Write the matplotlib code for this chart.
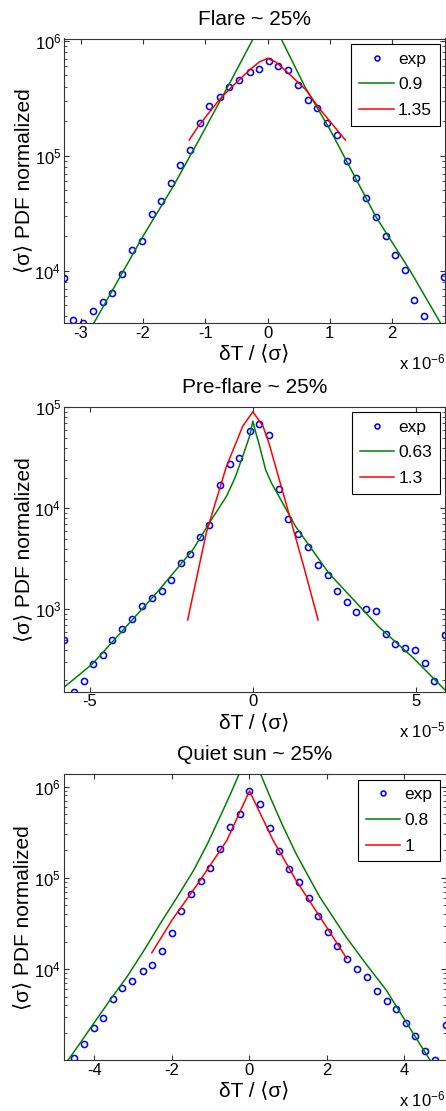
import matplotlib
matplotlib.use('Agg')
import matplotlib.pyplot as plt
from matplotlib.ticker import LogLocator, NullFormatter

plt.rcParams['font.family'] = ['Liberation Sans', 'DejaVu Sans']
plt.rcParams['axes.unicode_minus'] = False

## Flare ~ 25% (x in units of 1e-6)
x1 = [-3.27, -3.12, -2.96, -2.80, -2.65, -2.50, -2.34, -2.18, -2.02, -1.86,
      -1.71, -1.55, -1.40, -1.25, -1.09, -0.94, -0.77, -0.62, -0.46, -0.29,
      -0.14, 0.02, 0.17, 0.33, 0.49, 0.65, 0.80, 0.96, 1.11, 1.27,
      1.42, 1.58, 1.74, 1.90, 2.05, 2.20, 2.36, 2.52, 2.84]
y1 = [8570, 3725, 3480, 4455, 5345, 6440, 9360, 15030, 18230, 31330,
      40640, 57830, 82400, 112000, 191000, 270000, 323000, 393000, 458000, 537000,
      574000, 665000, 606000, 552000, 411000, 303000, 261000, 191000, 152000, 89300,
      64400, 43100, 29600, 19900, 13700, 10200, 5520, 4040, 8750]
gx1 = [-2.9, -2.0, -1.52, -1.10, -0.6, 0, 0.6, 1.0, 1.74, 2.3, 2.9]
gy1 = [2750, 20000, 53700, 138000, 437000, 1800000, 398000, 170000, 29500, 9800, 2700]
rx1 = [-1.26, -1.10, -0.78, -0.60, -0.29, -0.13, 0, 0.13, 0.29, 0.62, 0.83, 1.0, 1.25]
ry1 = [137000, 184500, 304800, 385500, 556000, 656000, 703000, 653000, 550000,
       372400, 258200, 199500, 137000]

## Pre-flare ~ 25% (x in units of 1e-5)
x2 = [-5.79, -5.49, -5.18, -4.89, -4.59, -4.31, -4.01, -3.70, -3.40, -3.09,
      -2.80, -2.50, -2.21, -1.92, -1.62, -1.33, -1.01, -0.71, -0.41, -0.10,
      0.19, 0.49, 0.79, 1.08, 1.39, 1.69, 1.99, 2.29, 2.58, 2.88,
      3.17, 3.47, 3.78, 4.08, 4.37, 4.66, 4.96, 5.27, 5.56, 5.89]
y2 = [497, 153, 195, 290, 356, 497, 638, 796, 1071, 1306,
      1531, 1938, 2898, 3533, 5200, 6840, 17000, 27700, 31700, 58300,
      68400, 53200, 15500, 7780, 5570, 4110, 2770, 2170, 1531, 1173,
      942, 1008, 962, 570, 450, 417, 399, 297, 195, 557]
gx2 = [-5.9, -4.9, -3.98, -2.96, -1.84, -1.27, -0.81, -0.55, -0.31, -0.10, 0,
       0.08, 0.18, 0.39, 0.57, 0.80, 1.31, 2.33, 3.86, 4.88, 5.9]
gy2 = [158, 292, 624, 1445, 3890, 7730, 13150, 20000, 32800, 51900, 73100,
       57500, 44600, 24200, 17800, 13150, 6620, 2280, 671, 339, 158]
rx2 = [-2.0, -1.43, -0.81, -0.31, 0, 0.31, 0.49, 1.10, 1.56, 2.0]
ry2 = [785, 5700, 26100, 65200, 90600, 65200, 44600, 8990, 2655, 785]

## Quiet sun ~ 25% (x in units of 1e-6)
x3 = [-4.52, -4.27, -4.02, -3.77, -3.52, -3.28, -3.03, -2.76, -2.51, -2.25,
      -2.00, -1.76, -1.51, -1.26, -1.02, -0.75, -0.50, -0.24, 0.0, 0.26,
      0.52, 0.76, 1.02, 1.27, 1.53, 1.78, 2.03, 2.27, 2.53, 2.78,
      3.03, 3.29, 3.54, 3.78, 4.03, 4.28, 4.54, 4.79, 5.06]
y3 = [1070, 1496, 2263, 2892, 4710, 6270, 7360, 9640, 11130, 15970,
      24930, 43100, 67300, 91900, 129800, 207800, 362000, 503000, 900000, 648000,
      353000, 198000, 125600, 89600, 60300, 38300, 25400, 17700, 13040, 9960,
      8200, 5760, 4480, 3660, 2590, 1866, 1277, 1000, 2420]
gx3 = [-4.8, -4.4, -4.02, -3.6, -3.16, -2.7, -2.30, -1.85, -1.44, -1.1, -0.76, -0.5,
       -0.28, 0, 0.30, 0.55, 0.85, 1.20, 1.8, 2.49, 3.0, 3.53, 4.1, 4.63, 5.1]
gy3 = [859, 1480, 2541, 4570, 8240, 16600, 31600, 63100, 121300, 229000, 465600,
       813000, 1334000, 2818000, 1334000, 741000, 380000, 184900, 63100, 22600,
       11500, 5890, 2400, 1052, 550]
rx3 = [-2.52, -2.0, -1.27, -0.58, 0, 0.6, 1.2, 2.0, 2.51]
ry3 = [15100, 34400, 94400, 258800, 897000, 263000, 94400, 28400, 13090]

titles = ['Flare ~ 25%', 'Pre-flare ~ 25%', 'Quiet sun ~ 25%']
green_labels = ['0.9', '0.63', '0.8']
red_labels = ['1.35', '1.3', '1']
multipliers = ['-6', '-5', '-6']

W, H = 446, 1111
fig = plt.figure(figsize=(W / 100, H / 100), dpi=100)

# axes boxes in pixels: left, top, right, bottom
boxes = [(64, 38.5, 445, 323), (64, 406.7, 445, 691.7), (63.5, 774.3, 445.5, 1060)]
xlims = [(-3.27, 2.85), (-5.79, 5.89), (-4.80, 5.06)]
ylims = [(3510, 1.047e6), (153, 1.016e5), (1008, 1.365e6)]
xticks = [[-3, -2, -1, 0, 1, 2], [-5, 0, 5], [-4, -2, 0, 2, 4]]

data = [(x1, y1, gx1, gy1, rx1, ry1), (x2, y2, gx2, gy2, rx2, ry2),
        (x3, y3, gx3, gy3, rx3, ry3)]

for i in range(3):
    l, t, r, b = boxes[i]
    ax = fig.add_axes([l / W, 1 - b / H, (r - l) / W, (b - t) / H])
    x, y, gx, gy, rx, ry = data[i]
    ax.plot(x, y, 'o', ms=4.4, mfc='none', mec='#0000ff', mew=1.15, label='exp')
    ax.plot(gx, gy, '-', color='#008000', lw=1.1, label=green_labels[i])
    ax.plot(rx, ry, '-', color='#ff0000', lw=1.1, label=red_labels[i])
    ax.set_yscale('log')
    ax.set_xlim(xlims[i])
    ax.set_ylim(ylims[i])
    ax.set_xticks(xticks[i])
    ax.yaxis.set_major_locator(LogLocator(base=10))
    ax.yaxis.set_minor_locator(LogLocator(base=10, subs=range(2, 10)))
    ax.yaxis.set_minor_formatter(NullFormatter())
    ax.tick_params(which='both', direction='in', top=True, right=True,
                   labelsize=12, color='#333333')
    ax.tick_params(which='major', length=3.5, pad=2)
    ax.tick_params(which='minor', length=2)
    for s in ax.spines.values():
        s.set_color('#333333')
        s.set_linewidth(0.8)
    ax.set_title(titles[i], fontsize=15, pad=10)
    ax.set_ylabel('⟨σ⟩ PDF normalized', fontsize=15, labelpad=1)
    ax.set_xlabel('δT / ⟨σ⟩', fontsize=15, labelpad=2.5)
    leg = ax.legend(loc='upper right', fontsize=12.5, numpoints=1, fancybox=False,
                    framealpha=1, edgecolor='black', handlelength=2.0,
                    handletextpad=0.23, labelspacing=0.6, borderpad=0.45,
                    borderaxespad=0.3, markerscale=0.8)
    leg.get_frame().set_linewidth(0.8)
    # axis multiplier, MATLAB style, below the right end of the x axis
    ax.text((445 - l) / (r - l), -46 / (b - t),
            r'x $\mathdefault{10^{' + multipliers[i] + '}}$',
            transform=ax.transAxes, fontsize=12, va='baseline', ha='right')

fig.savefig('out.png', dpi=100)
